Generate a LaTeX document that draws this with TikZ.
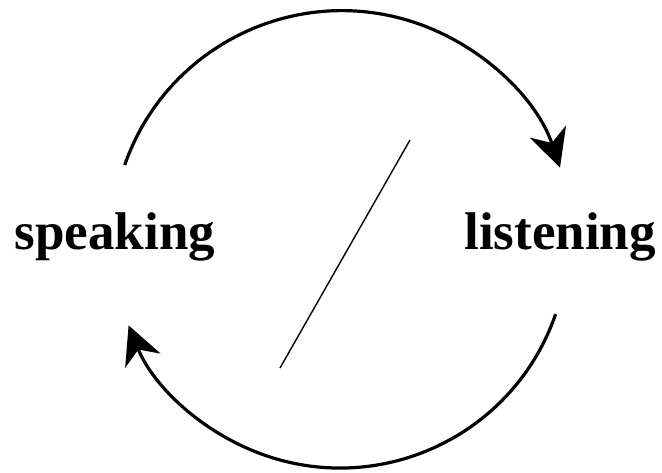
\documentclass[tikz,border=0pt]{standalone}
\usepackage{fontspec}
\setmainfont{Liberation Serif}
\usetikzlibrary{arrows.meta}
\begin{document}
\begin{tikzpicture}[x=1pt,y=1pt,
  word/.style={font=\fontsize{53}{60}\selectfont\bfseries, inner sep=0pt, anchor=base},
  cyc/.style={line width=3.2pt, -{Stealth[length=38pt,width=38pt,inset=12pt]}},
  slash/.style={line width=1.4pt}]
\useasboundingbox (0,0) rectangle (662,472);
\coordinate (c) at (340,232);
\node[word] (speak) at (115,222) {speaking};
\node[word] (listen) at (560,222) {listening};
\draw[cyc] (c) ++(160.8:228) arc[start angle=160.8, end angle=18.5, radius=230];
\draw[cyc] (c) ++(-19:228) arc[start angle=-19, end angle=-158, radius=228];
\coordinate (s1) at (410,332);
\coordinate (s2) at (280,104);
\draw[slash] (s1) -- (s2);
\end{tikzpicture}
\end{document}
